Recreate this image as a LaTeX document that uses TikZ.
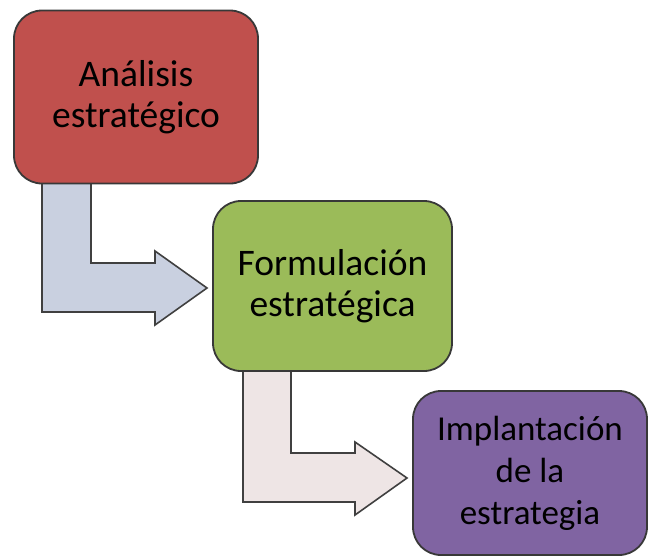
\documentclass[tikz,border=0pt]{standalone}
\usepackage{fontspec}
\setmainfont{Carlito}
\begin{document}
\begin{tikzpicture}[x=1pt,y=-1pt,
  stagebox/.style={draw=black!78, line width=1.8pt, rounded corners=28pt, align=center,
    font=\fontsize{37.5}{41}\selectfont, text=black, inner sep=0pt},
  bentarrow/.style={draw=black!75, line width=1.6pt, line join=miter}
]
\useasboundingbox (0,0) rectangle (649,558);
\definecolor{redbox}{RGB}{192,80,77}
\definecolor{greenbox}{RGB}{155,187,89}
\definecolor{purplebox}{RGB}{128,100,162}
\definecolor{bluearrow}{RGB}{201,208,224}
\definecolor{pinkarrow}{RGB}{238,229,229}

% connectors (bent arrows), drawn below the boxes
\coordinate (s1) at (42,170);
\draw[bentarrow, fill=bluearrow] (s1) -- ++(49,0) |- (155,263) -- (155,251) -- (207,288)
  -- (155,325) -- (155,312) -| cycle;
\coordinate (s2) at (243,360);
\draw[bentarrow, fill=pinkarrow] (s2) -- ++(48,0) |- (355,453) -- (355,442) -- (407,478)
  -- (355,515) -- (355,502) -| cycle;

\node[stagebox, fill=redbox, minimum width=244pt, minimum height=173pt] (a) at (136,97)
  {Análisis\\estratégico};
\node[stagebox, fill=greenbox, minimum width=239pt, minimum height=170pt] (b) at (332.5,286)
  {Formulación\\estratégica};
\node[stagebox, fill=purplebox, minimum width=234pt, minimum height=164pt,
  font=\fontsize{35}{42}\selectfont] (c) at (530,473)
  {Implantación\\de la\\estrategia};
\end{tikzpicture}
\end{document}
